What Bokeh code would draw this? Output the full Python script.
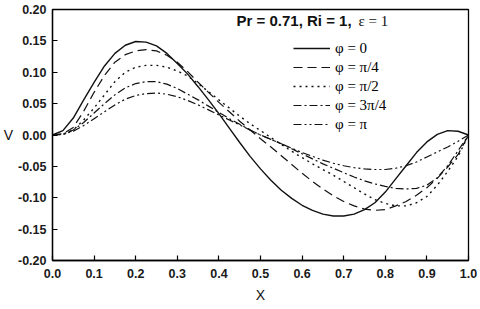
from bokeh.plotting import figure
from bokeh.models import Range1d, FixedTicker, NumeralTickFormatter, Legend, LegendItem, Label
from bokeh.embed import file_html
from bokeh.resources import INLINE

X = [0.000, 0.025, 0.050, 0.075, 0.100, 0.125, 0.150, 0.175, 0.200, 0.225,
     0.250, 0.275, 0.300, 0.325, 0.350, 0.375, 0.400, 0.425, 0.450, 0.475,
     0.500, 0.525, 0.550, 0.575, 0.600, 0.625, 0.650, 0.675, 0.700, 0.725,
     0.750, 0.775, 0.800, 0.825, 0.850, 0.875, 0.900, 0.925, 0.950, 0.975, 1.000]

V_phi_0 = [0.000, 0.007, 0.027, 0.056, 0.084, 0.110, 0.130, 0.143, 0.149, 0.148,
           0.142, 0.130, 0.114, 0.097, 0.077, 0.056, 0.034, 0.011, -0.012, -0.034,
           -0.054, -0.072, -0.088, -0.101, -0.112, -0.120, -0.126, -0.129, -0.129, -0.126,
           -0.119, -0.108, -0.091, -0.070, -0.049, -0.028, -0.011, 0.001, 0.007, 0.006, 0.000]

V_phi_pi4 = [0.000, 0.002, 0.012, 0.038, 0.068, 0.095, 0.116, 0.128, 0.134, 0.136,
             0.134, 0.127, 0.116, 0.101, 0.084, 0.068, 0.052, 0.037, 0.022, 0.008,
             -0.006, -0.019, -0.033, -0.047, -0.061, -0.074, -0.086, -0.097, -0.106, -0.113,
             -0.118, -0.120, -0.119, -0.113, -0.106, -0.096, -0.084, -0.069, -0.051, -0.031, 0.000]

V_phi_pi2 = [0.000, 0.001, 0.008, 0.024, 0.043, 0.064, 0.085, 0.100, 0.108, 0.111,
             0.111, 0.108, 0.102, 0.094, 0.082, 0.069, 0.056, 0.043, 0.030, 0.018,
             0.007, -0.004, -0.015, -0.026, -0.036, -0.046, -0.055, -0.064, -0.074, -0.084,
             -0.094, -0.103, -0.109, -0.113, -0.113, -0.108, -0.098, -0.080, -0.058, -0.034, 0.000]

V_phi_3pi4 = [0.000, 0.001, 0.008, 0.020, 0.035, 0.050, 0.064, 0.075, 0.082, 0.085,
              0.085, 0.081, 0.074, 0.065, 0.056, 0.046, 0.036, 0.026, 0.017, 0.008,
              0.000, -0.007, -0.014, -0.022, -0.030, -0.038, -0.046, -0.053, -0.060, -0.067,
              -0.073, -0.078, -0.082, -0.085, -0.086, -0.085, -0.080, -0.068, -0.049, -0.025, 0.000]

V_phi_pi = [0.000, 0.001, 0.006, 0.015, 0.026, 0.037, 0.048, 0.057, 0.063, 0.066,
            0.067, 0.065, 0.061, 0.055, 0.048, 0.040, 0.032, 0.024, 0.016, 0.008,
            0.000, -0.007, -0.014, -0.021, -0.028, -0.034, -0.040, -0.045, -0.049, -0.052,
            -0.054, -0.055, -0.055, -0.053, -0.049, -0.043, -0.035, -0.027, -0.019, -0.010, 0.000]

series_labels = ["\u03c6 = 0", "\u03c6 = \u03c0/4", "\u03c6 = \u03c0/2", "\u03c6 = 3\u03c0/4", "\u03c6 = \u03c0"]
x_ticks = [0.0, 0.1, 0.2, 0.3, 0.4, 0.5, 0.6, 0.7, 0.8, 0.9, 1.0]
y_ticks = [-0.20, -0.15, -0.10, -0.05, 0.00, 0.05, 0.10, 0.15, 0.20]

p = figure(width=478, height=305, output_backend="svg", toolbar_location=None,
           x_range=Range1d(0, 1), y_range=Range1d(-0.2, 0.2),
           min_border_left=52, min_border_right=10, min_border_top=9, min_border_bottom=38)
p.background_fill_color = "white"
p.border_fill_color = "white"
p.xgrid.visible = False
p.ygrid.visible = False
p.outline_line_color = "black"
p.outline_line_width = 1.3
p.outline_line_alpha = 1.0

for ax in (p.xaxis[0], p.yaxis[0]):
    ax.major_tick_in = 5
    ax.major_tick_out = 0
    ax.minor_tick_line_color = None
    ax.axis_line_color = "black"
    ax.axis_line_width = 1.3
    ax.major_tick_line_color = "black"
    ax.major_tick_line_width = 1.2
    ax.major_label_text_font = "Liberation Sans"
    ax.major_label_text_font_style = "bold"
    ax.major_label_text_font_size = "12.5px"
    ax.major_label_text_color = "#1a1a1a"
    ax.axis_label_text_font = "Liberation Sans"
    ax.axis_label_text_font_style = "normal"
    ax.axis_label_text_font_size = "14px"
    ax.axis_label_text_color = "#111111"

p.xaxis[0].major_label_standoff = 8
p.yaxis[0].major_label_standoff = 6
p.xaxis[0].ticker = FixedTicker(ticks=x_ticks)
p.yaxis[0].ticker = FixedTicker(ticks=y_ticks)
p.xaxis[0].formatter = NumeralTickFormatter(format="0.0")
p.yaxis[0].formatter = NumeralTickFormatter(format="0.00")
p.xaxis[0].axis_label = "X"
p.xaxis[0].axis_label_standoff = 6
p.yaxis[0].axis_label = "V"
p.yaxis[0].axis_label_orientation = "horizontal"
p.yaxis[0].axis_label_standoff = 2

series = [V_phi_0, V_phi_pi4, V_phi_pi2, V_phi_3pi4, V_phi_pi]
dashes = ["solid", "9 5", "2 4", "8 3 2 3", "8 3 2 3 2 3"]
widths = [1.4, 1.2, 1.4, 1.2, 1.2]

items = []
for vals, dash, w, lab in zip(series, dashes, widths, series_labels):
    r = p.line(X, vals, line_color="#111111", line_width=w, line_dash=dash)
    items.append(LegendItem(label=lab, renderers=[r]))

legend = Legend(items=items, location=(241, 127), padding=0, margin=0, spacing=1,
                glyph_width=37, glyph_height=18, label_height=18, label_standoff=5,
                label_text_font="Liberation Serif", label_text_font_size="15px",
                label_text_color="black",
                background_fill_alpha=0, border_line_alpha=0)
p.add_layout(legend)

p.add_layout(Label(x=184, y=240, x_units="screen", y_units="screen",
                   text="Pr = 0.71, Ri = 1,", text_font="Liberation Sans",
                   text_font_style="bold", text_font_size="15px",
                   text_baseline="middle", text_align="left", text_color="#111111"))
p.add_layout(Label(x=306, y=240, x_units="screen", y_units="screen",
                   text="\u03b5 = 1", text_font="Liberation Serif",
                   text_font_size="15px", text_baseline="middle",
                   text_align="left", text_color="#111111"))

open("out.html", "w").write(file_html(p, INLINE))
